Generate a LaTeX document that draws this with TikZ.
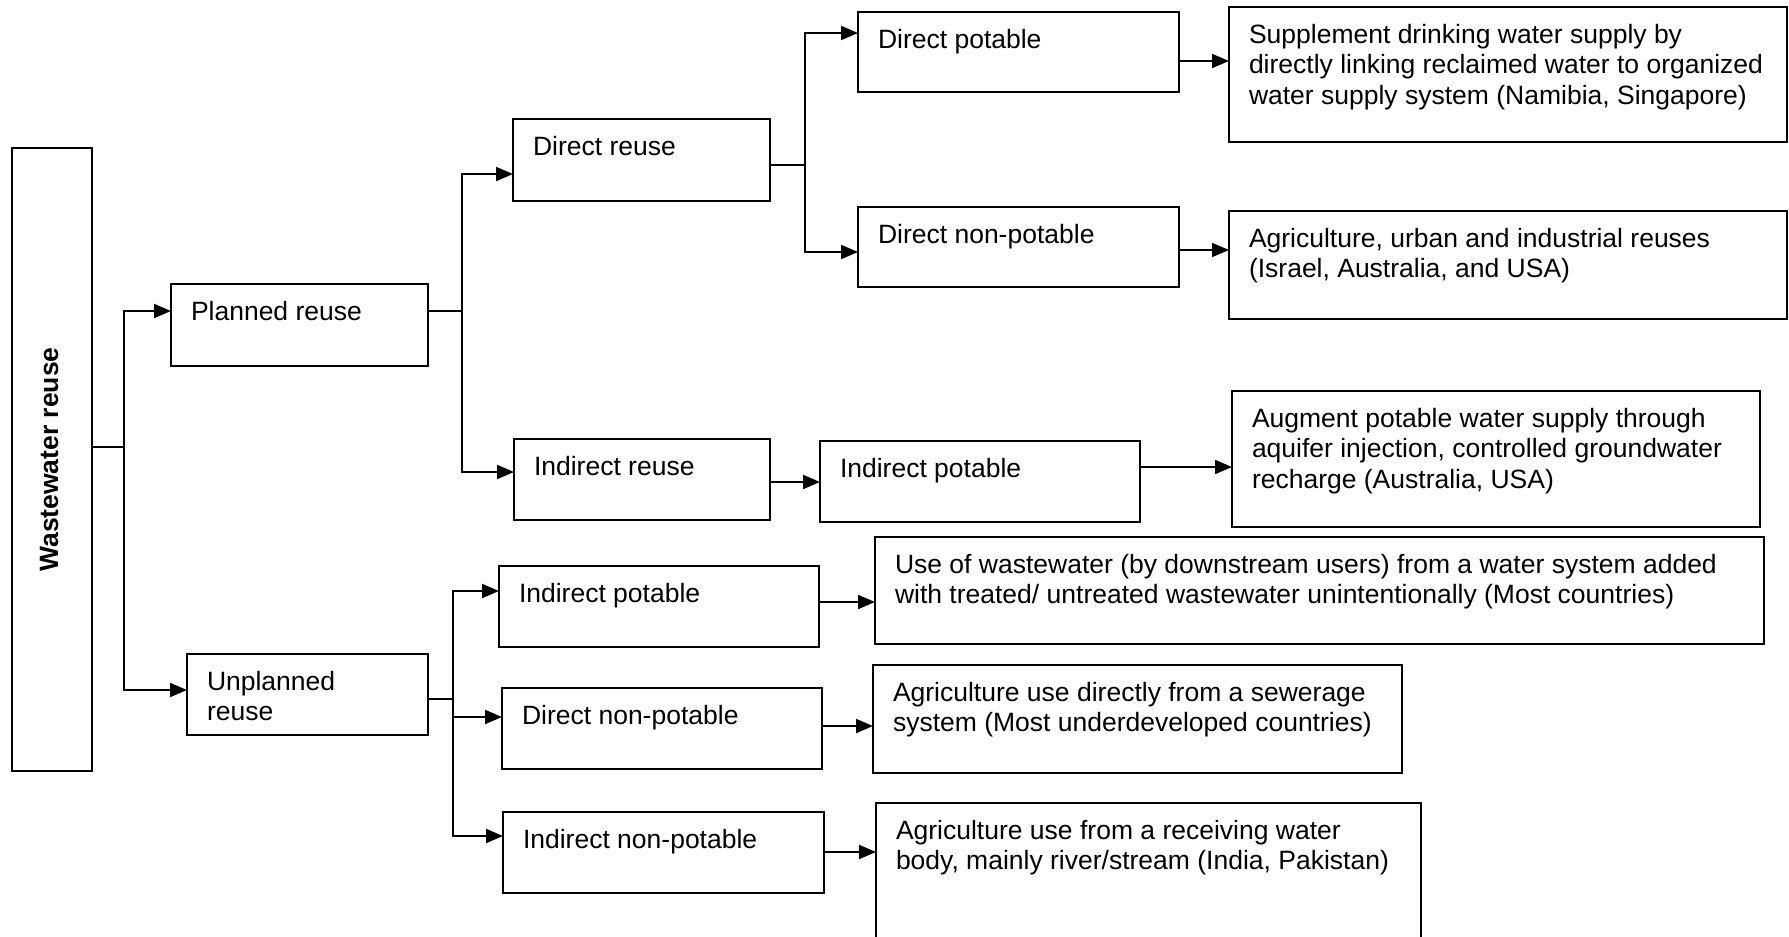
\documentclass[tikz,border=0pt]{standalone}
\usepackage{fontspec}
\setmainfont{Liberation Sans}
\usepackage{graphicx}
\usetikzlibrary{arrows.meta}

\newcommand{\boxfont}{\fontsize{26.5pt}{30.5pt}\selectfont}
% text of a box: box width, box height, lines
\newcommand{\boxtxt}[3]{\parbox[t][\dimexpr#2pt-30pt\relax][t]{\dimexpr#1pt-40pt\relax}{\begin{tabular}[t]{@{}l@{}}#3\end{tabular}}}

\tikzset{
  box/.style={draw, line width=2.3pt, anchor=north west, inner xsep=20pt, inner ysep=15pt, outer sep=0pt, font=\boxfont},
  ln/.style={line width=2pt},
  arr/.style={line width=2pt, -{Triangle[length=17pt,width=14pt]}},
}

\begin{document}
\begin{tikzpicture}[x=1pt, y=-1pt]
\useasboundingbox (0,0) rectangle (1789,937);

% first level
\node[box, inner sep=0pt, minimum width=80pt, minimum height=623pt] (ww) at (12,148) {\rotatebox{90}{\bfseries\strut Wastewater reuse}};
\node[box] (pl) at (171,284) {\boxtxt{257}{82}{Planned reuse}};
\node[box] (up) at (187,654) {\boxtxt{241}{81}{Unplanned\\reuse}};

% planned reuse
\node[box] (dr) at (513,119) {\boxtxt{257}{82}{Direct reuse}};
\node[box] (ir) at (514,439) {\boxtxt{256}{81}{Indirect reuse}};
\node[box] (dp) at (858,12) {\boxtxt{321}{80}{Direct potable}};
\node[box] (dn) at (858,207) {\boxtxt{321}{80}{Direct non-potable}};
\node[box] (ip) at (820,441) {\boxtxt{320}{81}{Indirect potable}};
\node[box] (sup) at (1229,7) {\boxtxt{558}{135}{Supplement drinking water supply by\\directly linking reclaimed water to organized\\water supply system (Namibia, Singapore)}};
\node[box] (agr) at (1229,211) {\boxtxt{558}{108}{Agriculture, urban and industrial reuses\\(Israel, Australia, and USA)}};
\node[box] (aug) at (1232,391) {\boxtxt{528}{136}{Augment potable water supply through\\aquifer injection, controlled groundwater\\recharge (Australia, USA)}};

% unplanned reuse
\node[box] (uip) at (499,566) {\boxtxt{320}{81}{Indirect potable}};
\node[box] (udn) at (502,688) {\boxtxt{320}{81}{Direct non-potable}};
\node[box] (uin) at (503,812) {\boxtxt{321}{81}{Indirect non-potable}};
\node[box] (use) at (875,537) {\boxtxt{889}{107}{Use of wastewater (by downstream users) from a water system added\\with treated/ untreated wastewater unintentionally (Most countries)}};
\node[box] (agd) at (873,665) {\boxtxt{529}{108}{Agriculture use directly from a sewerage\\system (Most underdeveloped countries)}};
\node[box] (rcv) at (876,803) {\boxtxt{545}{147}{Agriculture use from a receiving water\\body, mainly river/stream (India, Pakistan)}};

% forks
\draw[ln] ([yshift=12.5pt]ww.east) -- ++(32,0) coordinate (f1);
\draw[arr] (f1) |- ([yshift=14pt]pl.west);
\draw[arr] (f1) |- ([yshift=4.5pt]up.west);

\draw[ln] ([yshift=14pt]pl.east) -- ++(34,0) coordinate (f2);
\draw[arr] (f2) |- ([yshift=-14pt]dr.west);
\draw[arr] (f2) |- ([yshift=7.5pt]ir.west);

\draw[ln] ([yshift=-5pt]dr.east) -- ++(35,0) coordinate (f3);
\draw[arr] (f3) |- ([yshift=19pt]dp.west);
\draw[arr] (f3) |- ([yshift=-5pt]dn.west);

\draw[ln] ([yshift=-4.5pt]up.east) -- ++(25,0) coordinate (f4);
\draw[arr] (f4) |- ([yshift=15.5pt]uip.west);
\draw[arr] (f4) |- ([yshift=11.5pt]udn.west);
\draw[arr] (f4) |- ([yshift=16.5pt]uin.west);

% straight arrows
\draw[arr] ([yshift=-9pt]dp.east) coordinate (t) -- (t -| sup.west);
\draw[arr] ([yshift=-3pt]dn.east) coordinate (t) -- (t -| agr.west);
\draw[arr] ([yshift=-2.5pt]ir.east) coordinate (t) -- (t -| ip.west);
\draw[arr] ([yshift=14.5pt]ip.east) coordinate (t) -- (t -| aug.west);
\draw[arr] ([yshift=4.5pt]uip.east) coordinate (t) -- (t -| use.west);
\draw[arr] ([yshift=2.5pt]udn.east) coordinate (t) -- (t -| agd.west);
\draw[arr] ([yshift=0.5pt]uin.east) coordinate (t) -- (t -| rcv.west);

\end{tikzpicture}
\end{document}
